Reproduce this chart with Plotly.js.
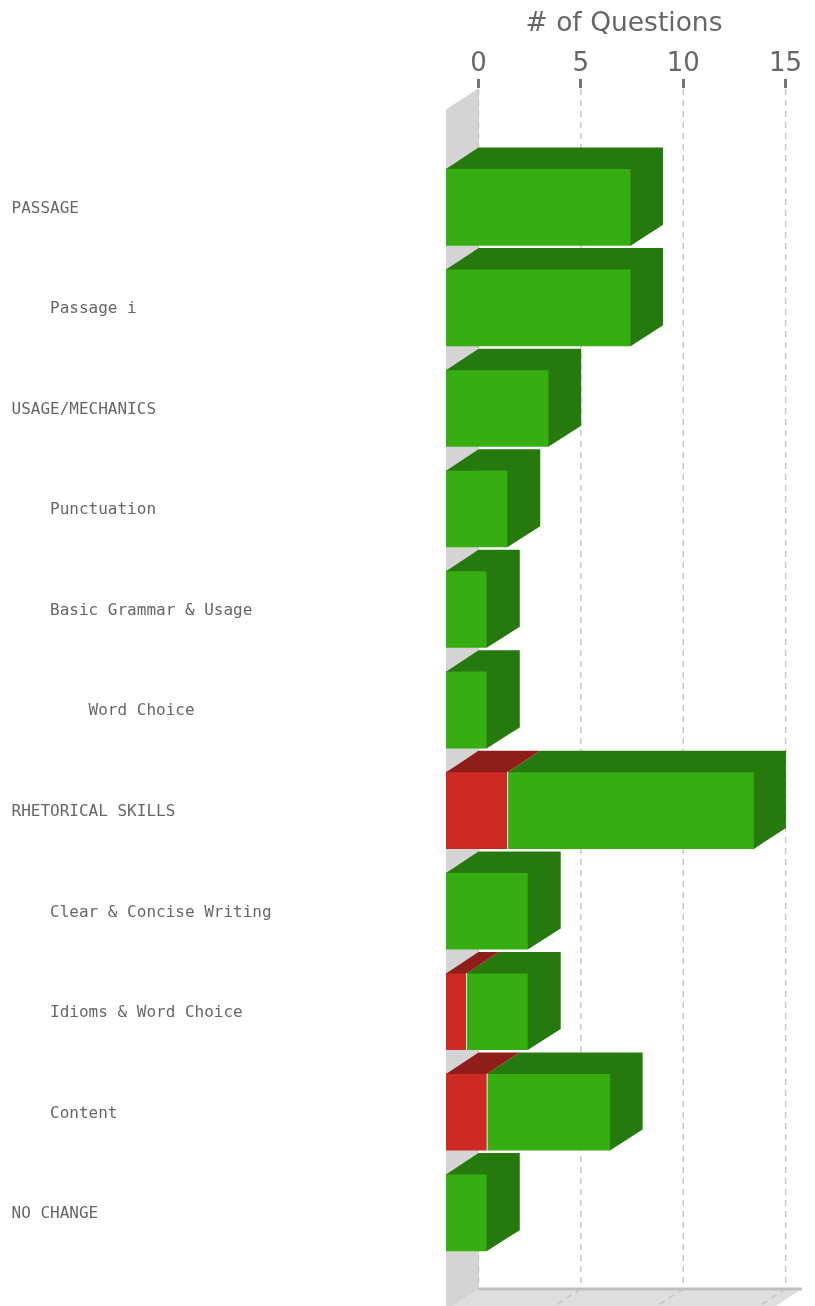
<!DOCTYPE html>
<html>
<head>
<meta charset="utf-8">
<script src="https://cdn.plot.ly/plotly-3.0.1.min.js"></script>
<style>html,body{margin:0;padding:0;background:#fff;overflow:hidden}#chart{will-change:transform}</style>
</head>
<body>
<div id="chart" style="width:815px;height:1306px"></div>
<script>
const NB = "\u00a0";
const categories = [
  "PASSAGE",
  NB.repeat(4) + "Passage i",
  "USAGE/MECHANICS",
  NB.repeat(4) + "Punctuation",
  NB.repeat(4) + "Basic Grammar & Usage",
  NB.repeat(8) + "Word Choice",
  "RHETORICAL SKILLS",
  NB.repeat(4) + "Clear & Concise Writing",
  NB.repeat(4) + "Idioms & Word Choice",
  NB.repeat(4) + "Content",
  "NO CHANGE"
];
const incorrect = [0, 0, 0, 0, 0, 0, 3, 0, 1, 2, 0];
const correct   = [9, 9, 5, 3, 2, 2, 12, 4, 3, 6, 2];
const xTicks = [0, 5, 10, 15];

// Oblique projection, in axis units
const depthX = 1.588;
const depthY = 0.2088;
const barHalf = 0.3834;
const frontScale = 1.004;   // the front plane is very slightly larger than the back plane
const xMax = 15.8;
const yTop = -1.1745;
const yBottomBack = 10.760;
const yView = 10.929;
// small overlap of the depth faces over the front face, to avoid a light seam
const seamX = 0.025, seamY = 0.005, edgeX = 0.015;

const GREEN = "#36AE11", GREEN_D = "#26790C", RED = "#CD2A24", RED_D = "#8F1D19";
const GREY = "#666666", GRID = "#c6c6c6";

const ids = categories.map((_, i) => i);
const front = v => -depthX + v * frontScale;

function faces(getStart, getEnd, color, withSide) {
  const xs = [], ys = [];
  ids.forEach(i => {
    const a = getStart(i), b = getEnd(i);
    if (b <= a) return;
    const t = i - barHalf, bt = i + barHalf;
    const r = withSide ? b + edgeX : b;
    // top face
    xs.push(front(a), a, r, front(b), front(a), null);
    ys.push(t + seamY, t - depthY, t - depthY, t + seamY, t + seamY, null);
    if (withSide) {
      xs.push(front(b) - seamX, r, r, front(b) - seamX, front(b) - seamX, null);
      ys.push(t, t - depthY, bt - depthY, bt, t, null);
    }
  });
  return {type: "scatter", mode: "lines", x: xs, y: ys, fill: "toself", fillcolor: color,
    line: {width: 0, color: color}, hoverinfo: "skip", showlegend: false, connectgaps: false};
}

const traces = [
  {type: "bar", orientation: "h", name: "Incorrect", y: ids, x: incorrect.map(v => v * frontScale),
   base: ids.map(() => -depthX), width: barHalf * 2, marker: {color: RED, line: {width: 0}}, showlegend: false},
  {type: "bar", orientation: "h", name: "Correct", y: ids, x: correct.map(v => v * frontScale),
   base: incorrect.map(v => front(v)), width: barHalf * 2, marker: {color: GREEN, line: {width: 0}}, showlegend: false},
  faces(i => incorrect[i], i => incorrect[i] + correct[i], GREEN_D, true),
  faces(() => 0, i => incorrect[i], RED_D, false),
  // thin separator between the two stacked segments
  (function () {
    const xs = [], ys = [];
    ids.forEach(i => {
      if (incorrect[i] > 0) {
        xs.push(front(incorrect[i]), front(incorrect[i]), null);
        ys.push(i - barHalf, i + barHalf, null);
      }
    });
    return {type: "scatter", mode: "lines", x: xs, y: ys,
      line: {color: "rgba(255,255,255,0.8)", width: 1}, hoverinfo: "skip", showlegend: false};
  })()
];

const wall = {type: "path", xref: "x", yref: "y", layer: "between",
  path: `M ${-depthX} ${yTop + depthY} L 0 ${yTop} L 0 ${yBottomBack} L ${-depthX} ${yBottomBack + depthY} Z`,
  fillcolor: "#d4d4d4", line: {color: "#cfd3de", width: 1}};
const floor = {type: "path", xref: "x", yref: "y", layer: "between",
  path: `M 0 ${yBottomBack} L ${xMax} ${yBottomBack} L ${xMax - depthX} ${yBottomBack + depthY} L ${-depthX} ${yBottomBack + depthY} Z`,
  fillcolor: "#dedede", line: {width: 0}};
const floorEdge = {type: "line", xref: "x", yref: "y", layer: "between",
  x0: 0, x1: xMax, y0: yBottomBack, y1: yBottomBack, line: {color: "#c0c0c0", width: 3}};
const gridLines = xTicks.map(v => ({type: "line", xref: "x", yref: "y", layer: "between",
  x0: v, x1: v, y0: yTop, y1: yBottomBack,
  line: {color: GRID, width: 1.5, dash: "6px,5px"}}));
const floorGrid = xTicks.slice(1).map(v => ({type: "line", xref: "x", yref: "y", layer: "between",
  x0: v, x1: v - depthX, y0: yBottomBack, y1: yBottomBack + depthY,
  line: {color: GRID, width: 1.5, dash: "6px,5px"}}));

const layout = {
  width: 815, height: 1306, autosize: false,
  margin: {l: 446, r: 13, t: 89, b: 0, pad: 0},
  paper_bgcolor: "#fff", plot_bgcolor: "#fff",
  barmode: "overlay", showlegend: false, hovermode: false,
  font: {family: "DejaVu Sans", color: GREY},
  shapes: [wall, floor, ...gridLines, ...floorGrid, floorEdge],
  xaxis: {
    side: "top", range: [-depthX, xMax], tickmode: "array", tickvals: xTicks, ticktext: xTicks.map(String),
    ticks: "outside", ticklen: 9, tickwidth: 3, tickcolor: "#757575", ticklabelstandoff: -2,
    tickfont: {family: "DejaVu Sans", size: 26, color: GREY},
    showgrid: false, zeroline: false, showline: false,
    title: {text: "# of Questions", font: {family: "DejaVu Sans", size: 26.5, color: GREY}, standoff: 7}
  },
  yaxis: {
    range: [yView, yTop], tickmode: "array", tickvals: ids,
    ticktext: categories.map(c => c.padEnd(45, NB)),
    ticks: "", showgrid: false, zeroline: false, showline: false,
    tickfont: {family: "DejaVu Sans Mono", size: 16, color: GREY}
  }
};

Plotly.newPlot("chart", traces, layout, {displayModeBar: false, staticPlot: true});
</script>
</body>
</html>
